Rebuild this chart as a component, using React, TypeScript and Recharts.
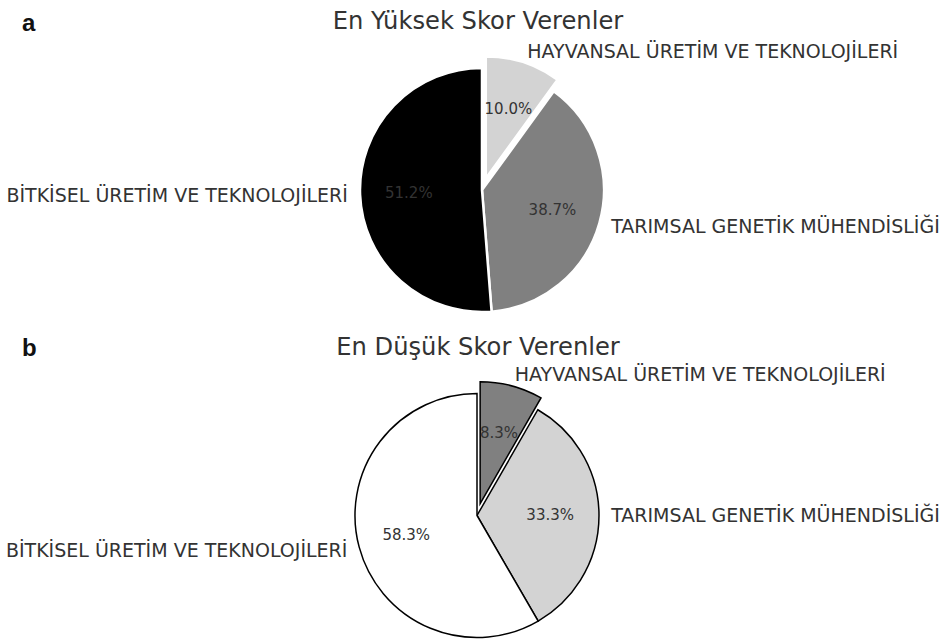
import React from "react";
import { PieChart, Pie, Cell } from "recharts";

const categories = [
  "HAYVANSAL ÜRETİM VE TEKNOLOJİLERİ",
  "TARIMSAL GENETİK MÜHENDİSLİĞİ",
  "BİTKİSEL ÜRETİM VE TEKNOLOJİLERİ",
];
const highValues = [10.0, 38.7, 51.2];
const lowValues = [8.3, 33.3, 58.3];
const highColors = ["#d3d3d3", "#808080", "#000000"];
const lowColors = ["#808080", "#d3d3d3", "#ffffff"];
const titles = ["En Yüksek Skor Verenler", "En Düşük Skor Verenler"];
const panelLetters = ["a", "b"];
const explodeIndex = 0;
const explodeFrac = 0.1;

const W = 940;
const H = 641;
const R = 122;
const RAD = Math.PI / 180;
const FONT = "'DejaVu Sans', sans-serif";
const TEXT = "#333333";

function buildData(values: number[]) {
  return categories.map((name, i) => ({ name, value: values[i] }));
}

function explodeOffset(values: number[], idx: number, r: number) {
  const total = values.reduce((a, b) => a + b, 0);
  let cum = 0;
  for (let i = 0; i < idx; i++) cum += values[i];
  const theta = ((cum + values[idx] / 2) / total) * 360 * RAD;
  return { dx: explodeFrac * r * Math.sin(theta), dy: -explodeFrac * r * Math.cos(theta) };
}

function makeLabel(show: (i: number) => boolean) {
  return (props: any) => {
    const { cx, cy, midAngle, outerRadius, index, value, name } = props;
    if (!show(index)) return <g />;
    const c = Math.cos(-midAngle * RAD);
    const s = Math.sin(-midAngle * RAD);
    const lx = cx + outerRadius * 1.1 * c;
    const ly = cy + outerRadius * 1.1 * s;
    const px = cx + outerRadius * 0.6 * c;
    const py = cy + outerRadius * 0.6 * s;
    return (
      <g>
        <text
          x={lx}
          y={ly}
          textAnchor={c >= 0 ? "start" : "end"}
          dominantBaseline="central"
          fontFamily={FONT}
          fontSize={19}
          fill={TEXT}
        >
          {name}
        </text>
        <text
          x={px}
          y={py}
          textAnchor="middle"
          dominantBaseline="central"
          fontFamily={FONT}
          fontSize={15}
          fill={TEXT}
        >
          {Number(value).toFixed(1) + "%"}
        </text>
      </g>
    );
  };
}

function PiePair(props: {
  id: string;
  values: number[];
  colors: string[];
  cx: number;
  cy: number;
  stroke: string;
  strokeWidth: number;
}) {
  const { id, values, colors, cx, cy, stroke, strokeWidth } = props;
  const data = buildData(values);
  const { dx, dy } = explodeOffset(values, explodeIndex, R);
  return [
    <Pie
      key={id + "-base"}
      data={data}
      dataKey="value"
      nameKey="name"
      cx={cx}
      cy={cy}
      outerRadius={R}
      startAngle={90}
      endAngle={-270}
      isAnimationActive={false}
      labelLine={false}
      label={makeLabel((i) => i !== explodeIndex)}
      stroke={stroke}
      strokeWidth={strokeWidth}
    >
      {data.map((d, i) => (
        <Cell
          key={i}
          fill={i === explodeIndex ? "none" : colors[i]}
          stroke={i === explodeIndex ? "none" : stroke}
        />
      ))}
    </Pie>,
    <Pie
      key={id + "-exp"}
      data={data}
      dataKey="value"
      nameKey="name"
      cx={cx + dx}
      cy={cy + dy}
      outerRadius={R}
      startAngle={90}
      endAngle={-270}
      isAnimationActive={false}
      labelLine={false}
      label={makeLabel((i) => i === explodeIndex)}
      stroke={stroke}
      strokeWidth={strokeWidth}
    >
      {data.map((d, i) => (
        <Cell
          key={i}
          fill={i === explodeIndex ? colors[i] : "none"}
          stroke={i === explodeIndex ? stroke : "none"}
        />
      ))}
    </Pie>,
  ];
}

export default function App() {
  return (
    <div style={{ position: "absolute", left: 0, top: 0, width: W, height: H, background: "#fff" }}>
      <PieChart width={W} height={H} margin={{ top: 0, right: 0, bottom: 0, left: 0 }}>
        {PiePair({ id: "a", values: highValues, colors: highColors, cx: 482, cy: 190, stroke: "#ffffff", strokeWidth: 2.5 })}
        {PiePair({ id: "b", values: lowValues, colors: lowColors, cx: 477, cy: 515.5, stroke: "#000000", strokeWidth: 1.5 })}
        <text x={22} y={31} fontFamily="'Liberation Sans', Arial, sans-serif" fontWeight="bold" fontSize={24} fill="#111">
          {panelLetters[0]}
        </text>
        <text x={22} y={356} fontFamily="'Liberation Sans', Arial, sans-serif" fontWeight="bold" fontSize={24} fill="#111">
          {panelLetters[1]}
        </text>
        <text x={478} y={29} textAnchor="middle" fontFamily={FONT} fontSize={24.2} fill={TEXT}>
          {titles[0]}
        </text>
        <text x={478} y={355} textAnchor="middle" fontFamily={FONT} fontSize={24.2} fill={TEXT}>
          {titles[1]}
        </text>
      </PieChart>
    </div>
  );
}
